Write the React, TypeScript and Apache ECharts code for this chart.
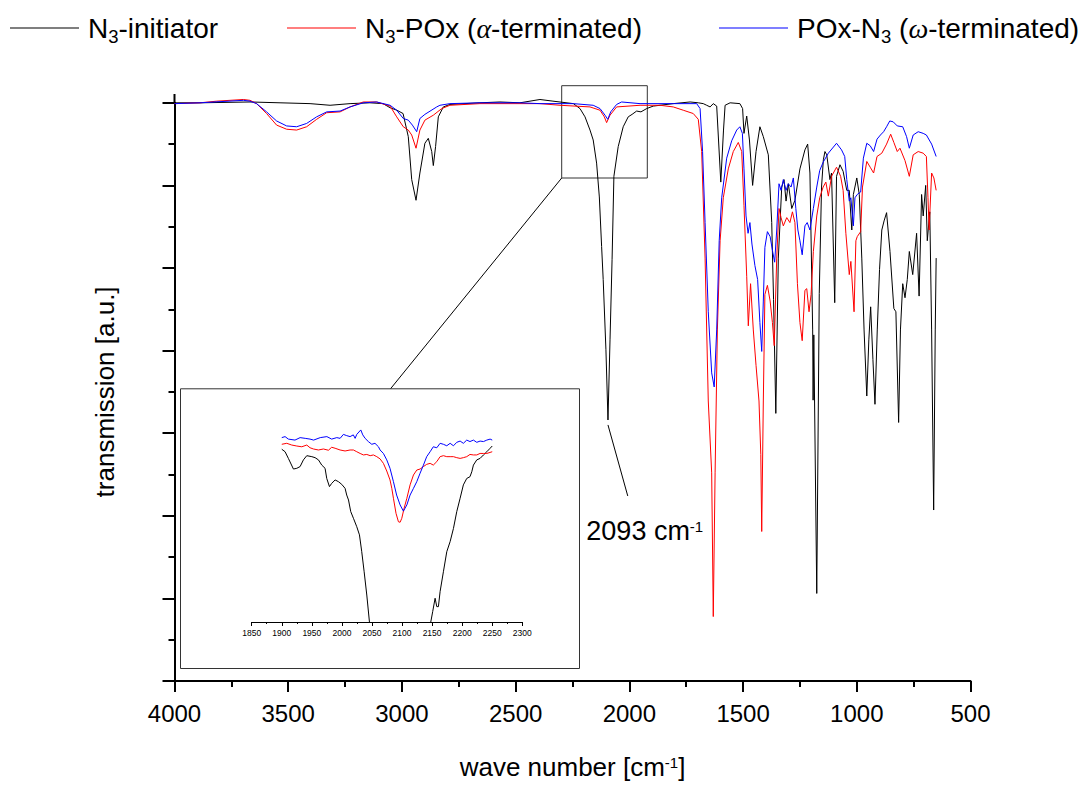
import React, { useEffect, useRef } from "react";
import * as echarts from "echarts";

const FONT = "Liberation Sans";

const seriesNames = ["N3-initiator", "N3-POx (α-terminated)", "POx-N3 (ω-terminated)"];
const seriesColors = ["#000000", "#ff0000", "#0000ff"];
const legendLabels = [
  "N{sub|3}-initiator",
  "N{sub|3}-POx ({it|α}-terminated)",
  "POx-N{sub|3} ({it|ω}-terminated)",
];

// main spectra: [wave number cm-1, transmission a.u.]
const initiatorSpectrum: [number, number][] = [
  [4000, 70.0], [3888, 70.0], [3668, 70.1], [3536, 70.0], [3404, 69.9], [3316, 69.7], [3228, 69.9], [3141, 70.0],
  [3083, 69.9], [3052, 69.4], [3022, 69.1], [2995, 68.7], [2972, 65.9], [2957, 60.7], [2938, 58.2], [2921, 61.5],
  [2899, 65.1], [2884, 65.7], [2869, 64.1], [2862, 62.4], [2852, 64.7], [2840, 68.3], [2818, 69.5], [2789, 69.8],
  [2657, 70.0], [2569, 70.1], [2481, 70.0], [2393, 70.4], [2336, 70.2], [2246, 69.9], [2217, 69.3], [2195, 68.3],
  [2173, 66.7], [2159, 65.5], [2144, 62.7], [2132, 58.6], [2122, 52.6], [2115, 48.6], [2103, 40.1], [2094, 31.6],
  [2085, 41.3], [2076, 51.0], [2068, 61.1], [2049, 64.7], [2027, 67.1], [2005, 68.3], [1988, 68.6], [1968, 69.0],
  [1949, 68.9], [1924, 69.3], [1895, 69.6], [1807, 69.9], [1733, 70.1], [1697, 70.0], [1675, 69.9], [1660, 69.7],
  [1645, 69.5], [1631, 69.9], [1616, 69.6], [1598, 60.4], [1586, 66.7], [1579, 69.7], [1557, 70.0], [1514, 69.9],
  [1502, 69.3], [1496, 66.3], [1484, 68.4], [1472, 65.5], [1458, 60.0], [1443, 64.1], [1426, 67.1], [1411, 65.9],
  [1389, 63.7], [1374, 55.5], [1366, 46.2], [1356, 32.4], [1345, 51.2], [1330, 59.8], [1320, 60.7], [1311, 58.1],
  [1301, 60.2], [1286, 57.2], [1272, 58.2], [1250, 62.0], [1228, 64.3], [1216, 65.0], [1206, 61.5], [1194, 42.5],
  [1192, 34.0], [1189, 41.9], [1176, 10.6], [1165, 46.9], [1155, 59.8], [1147, 63.1], [1140, 64.1], [1132, 63.7],
  [1118, 60.7], [1111, 61.5], [1097, 45.8], [1089, 61.1], [1074, 62.5], [1060, 61.7], [1044, 59.4], [1033, 59.4],
  [1022, 54.6], [1015, 58.9], [1000, 60.9], [989, 58.9], [978, 51.2], [968, 42.5], [956, 34.5], [947, 41.3],
  [939, 45.3], [929, 38.9], [920, 33.5], [910, 42.5], [900, 49.8], [890, 54.6], [880, 55.7], [869, 56.7],
  [854, 52.0], [837, 45.1], [828, 44.7], [816, 31.3], [808, 42.5], [798, 48.1], [788, 46.4], [778, 48.6],
  [769, 52.0], [754, 49.2], [737, 54.2], [726, 46.6], [715, 58.9], [708, 56.3], [697, 60.0], [690, 53.3],
  [679, 56.8], [671, 42.5], [662, 20.7], [655, 42.5], [651, 51.2],
];

const alphaSpectrum: [number, number][] = [
  [4000, 69.9], [3888, 70.0], [3814, 70.2], [3697, 70.4], [3668, 70.3], [3639, 69.9], [3595, 68.7], [3551, 67.3],
  [3507, 66.8], [3463, 66.7], [3419, 67.1], [3375, 68.0], [3331, 68.8], [3272, 68.9], [3228, 69.5], [3170, 70.1],
  [3111, 70.1], [3052, 69.6], [3023, 68.3], [2994, 67.1], [2972, 66.7], [2957, 66.1], [2938, 64.5], [2921, 66.7],
  [2899, 67.9], [2862, 68.5], [2825, 69.3], [2789, 69.7], [2657, 69.9], [2481, 69.9], [2393, 69.9], [2305, 69.7],
  [2173, 69.5], [2129, 69.1], [2110, 68.3], [2100, 67.6], [2085, 68.5], [2056, 69.5], [1953, 69.7], [1865, 69.7],
  [1807, 69.5], [1763, 69.1], [1719, 68.7], [1697, 68.0], [1682, 64.1], [1667, 51.2], [1653, 33.9], [1638, 25.2],
  [1631, 7.8], [1623, 25.2], [1613, 42.5], [1601, 53.3], [1587, 58.5], [1565, 62.0], [1543, 64.1], [1521, 65.2],
  [1506, 64.1], [1496, 57.6], [1484, 49.0], [1477, 43.0], [1467, 48.1], [1455, 42.5], [1443, 38.2], [1430, 33.9],
  [1422, 27.4], [1418, 18.1], [1411, 33.9], [1404, 46.8], [1393, 47.9], [1381, 46.0], [1371, 43.4], [1363, 40.6],
  [1352, 51.2], [1342, 57.2], [1333, 56.1], [1323, 55.1], [1308, 56.1], [1294, 55.5], [1283, 56.8], [1272, 55.5],
  [1261, 48.1], [1250, 43.4], [1240, 41.2], [1228, 47.3], [1220, 47.5], [1210, 44.7], [1201, 46.8], [1191, 52.0],
  [1176, 56.3], [1163, 58.5], [1148, 59.8], [1136, 60.4], [1125, 58.7], [1111, 61.1], [1089, 62.2], [1071, 61.1],
  [1060, 59.4], [1048, 54.2], [1033, 49.2], [1026, 50.8], [1012, 44.7], [1004, 53.3], [998, 53.8], [983, 54.4],
  [975, 59.8], [956, 62.9], [941, 62.2], [926, 61.5], [911, 63.5], [890, 63.9], [869, 65.0], [851, 66.2],
  [837, 65.2], [822, 64.1], [810, 64.5], [788, 63.0], [769, 61.1], [752, 63.7], [730, 64.1], [708, 63.9],
  [694, 63.5], [687, 58.5], [682, 54.6], [671, 61.5], [661, 60.9], [651, 59.4],
];

const omegaSpectrum: [number, number][] = [
  [4000, 69.9], [3888, 70.0], [3697, 70.3], [3668, 70.2], [3639, 69.9], [3595, 68.9], [3551, 67.8], [3507, 67.2],
  [3463, 67.1], [3419, 67.5], [3375, 68.3], [3331, 68.9], [3272, 69.0], [3228, 69.5], [3170, 70.0], [3111, 70.1],
  [3052, 69.7], [3023, 69.1], [2994, 68.1], [2972, 67.9], [2954, 67.3], [2935, 66.5], [2921, 68.1], [2899, 68.6],
  [2847, 69.5], [2833, 69.7], [2789, 69.9], [2657, 70.0], [2481, 70.0], [2393, 69.9], [2246, 69.9], [2159, 69.7],
  [2129, 69.3], [2107, 68.5], [2095, 68.0], [2082, 68.9], [2056, 69.8], [2034, 70.1], [1953, 69.9], [1807, 69.9],
  [1704, 69.9], [1689, 69.3], [1678, 64.1], [1667, 55.5], [1653, 44.7], [1638, 37.3], [1627, 35.6], [1616, 42.5],
  [1605, 53.3], [1594, 58.5], [1572, 63.3], [1550, 65.4], [1528, 66.7], [1514, 67.1], [1503, 66.3], [1496, 62.0],
  [1487, 56.3], [1478, 54.2], [1470, 55.5], [1461, 52.9], [1448, 50.3], [1436, 48.6], [1426, 43.4], [1418, 39.9],
  [1411, 46.0], [1404, 52.5], [1393, 54.4], [1381, 53.8], [1370, 52.0], [1361, 50.7], [1352, 54.6], [1342, 60.2],
  [1333, 59.4], [1323, 60.7], [1311, 59.4], [1301, 60.2], [1289, 59.8], [1279, 60.9], [1268, 57.2], [1259, 54.6],
  [1250, 53.3], [1240, 51.6], [1228, 55.1], [1218, 55.5], [1206, 54.6], [1191, 57.2], [1176, 59.8], [1163, 61.8],
  [1148, 62.8], [1125, 63.9], [1089, 65.1], [1067, 64.3], [1053, 63.5], [1044, 60.7], [1033, 58.1], [1026, 58.5],
  [1015, 55.1], [1008, 58.5], [998, 58.9], [983, 59.2], [971, 63.3], [956, 65.1], [941, 64.8], [926, 64.1],
  [911, 65.6], [896, 66.1], [882, 66.5], [869, 67.1], [855, 67.8], [840, 67.7], [822, 67.2], [798, 67.1],
  [781, 65.9], [769, 64.5], [752, 66.1], [730, 66.5], [708, 66.3], [694, 66.1], [671, 65.0], [651, 63.5],
];

// inset (azide band): [wave number, relative transmission]
const insetInitiator: [number, number][] = [
  [1900, 69.8], [1905.5, 68.8], [1911, 66.1], [1919.4, 61.8], [1925, 62.1], [1930.5, 62.8], [1936, 65.5],
  [1941.6, 67.2], [1950, 66.8], [1955.4, 66.4], [1961, 65.5], [1966.5, 63.4], [1972, 62.1], [1974.8, 58.0],
  [1979.3, 54.7], [1983, 56.0], [1988.7, 57.4], [1994.2, 56.7], [1999.8, 55.6], [2005.3, 54.0], [2008, 51.3],
  [2011, 49.3], [2014.7, 44.6], [2019.2, 41.9], [2024.7, 38.5], [2029.2, 35.2], [2033, 28.4], [2037, 20.3],
  [2041.4, 10.9], [2045.8, 0], [2060, -40], [2093, -120], [2130, -40], [2147.8, 0], [2151, 4.2], [2155, 9.6],
  [2157.8, 6.2], [2160.5, 6.2], [2163.3, 12.3], [2168.8, 20.3], [2174.4, 28.4], [2180, 32.5], [2185.5, 37.8],
  [2191, 44.6], [2196.6, 50.0], [2202, 55.4], [2207.6, 58.0], [2213, 58.7], [2216, 60.7], [2218.7, 63.4],
  [2224.3, 65.5], [2229.8, 66.1], [2235.4, 67.5], [2241, 68.8], [2246.5, 70.2], [2250, 71.1],
];

const insetAlpha: [number, number][] = [
  [1900, 71.8], [1908.3, 72.2], [1916.6, 71.5], [1925, 71.1], [1933.3, 70.8], [1941.6, 71.5], [1947, 70.4],
  [1952.7, 69.9], [1961, 69.5], [1969.3, 69.9], [1977.6, 69.4], [1983, 70.6], [1988.7, 70.2], [1997, 69.5],
  [2005.3, 69.1], [2013.6, 69.5], [2019.2, 69.5], [2024.7, 68.8], [2030.3, 68.1], [2035.8, 67.5], [2041.4, 67.7],
  [2047, 67.2], [2052.4, 67.5], [2058, 66.8], [2063.5, 65.9], [2069, 64.1], [2074.6, 61.0], [2080, 57.4],
  [2083, 54.0], [2085.7, 50.0], [2090, 43.9], [2094, 40.5], [2096.8, 40.3], [2099.6, 41.9], [2103.4, 45.9],
  [2108, 50.0], [2113.4, 55.4], [2119, 59.4], [2124.5, 61.4], [2130, 61.8], [2135.6, 62.8], [2141, 63.7],
  [2146.7, 64.1], [2152, 63.4], [2157.8, 64.8], [2163.3, 66.8], [2168.8, 67.2], [2174.4, 66.8], [2180, 66.8],
  [2185.5, 66.8], [2191, 66.4], [2196.6, 66.1], [2202, 66.4], [2207.6, 66.8], [2213, 67.7], [2218.7, 67.5],
  [2224.3, 67.5], [2229.8, 68.1], [2235.4, 68.1], [2241, 68.1], [2250, 68.8],
];

const insetOmega: [number, number][] = [
  [1900, 74.5], [1905.5, 74.9], [1911, 73.9], [1922, 73.5], [1930.5, 74.5], [1939, 74.2], [1947, 73.9],
  [1953, 73.5], [1964, 74.5], [1975, 74.9], [1983, 73.9], [1991.5, 74.5], [1997, 74.2], [2002.5, 75.8],
  [2008, 75.3], [2013.6, 74.9], [2019, 75.6], [2022, 74.2], [2024.7, 75.8], [2031.4, 77.6], [2034.7, 75.6],
  [2038.6, 74.2], [2044, 72.9], [2049.7, 71.8], [2055, 72.2], [2060.8, 70.8], [2063.5, 69.5], [2069, 68.1],
  [2074.6, 65.5], [2080, 62.1], [2085.7, 56.7], [2091, 51.3], [2096.8, 47.3], [2102.3, 44.8], [2108, 47.3],
  [2113.4, 51.3], [2119, 54.0], [2124.5, 56.7], [2130, 60.1], [2135.6, 63.4], [2141, 66.8], [2146.7, 68.8],
  [2152, 70.8], [2157.8, 70.4], [2163.3, 72.2], [2168.8, 71.8], [2174.4, 71.2], [2180, 72.2], [2185.5, 71.2],
  [2191, 72.6], [2196.6, 73.1], [2202, 72.2], [2207.6, 73.5], [2213, 72.9], [2218.7, 73.5], [2224.3, 72.6],
  [2229.8, 73.1], [2235.4, 72.9], [2241, 73.5], [2246.5, 73.9], [2250, 73.5],
];

// annotation of the azide band
const peakLabel = "2093 cm{sup|-1}";
const peakLeaderStart: [number, number] = [2094, 31.0];
const peakLeaderEnd: [number, number] = [2007, 22.4];

const mainXRange = { min: 500, max: 4000, step: 500 };
const mainYRange = { min: 0, max: 70, step: 10 };
const insetXRange = { min: 1850, max: 2300, step: 50 };
const insetYRange = { min: 0, max: 100 };

const plainNumber = (v: number) => String(v);

export default function App() {
  const ref = useRef<HTMLDivElement>(null);

  useEffect(() => {
    if (!ref.current) return;
    const chart = echarts.init(ref.current, null, { renderer: "svg" });

    const legendRich = {
      sub: { fontSize: 18.5, fontFamily: FONT, color: "#000", padding: [16, 0, 0, 0] },
      it: { fontSize: 28, fontFamily: "Liberation Serif", fontStyle: "italic", color: "#000" },
    };
    const legendLeft = [10, 287, 719];

    const axisLineStyle = { color: "#000", width: 2 };

    const option: any = {
      animation: false,
      backgroundColor: "#fff",
      legend: seriesNames.map((name, i) => ({
        data: [name],
        left: legendLeft[i],
        top: 14,
        padding: 0,
        icon: "rect",
        itemWidth: 69,
        itemHeight: 1.2,
        selectedMode: false,
        formatter: () => legendLabels[i],
        textStyle: {
          fontSize: 28,
          fontFamily: FONT,
          color: "#000",
          padding: [0, 0, 0, 4],
          rich: legendRich,
        },
      })),
      grid: [
        { left: 174.5, right: 113.5, top: 102.8, bottom: 103.3, containLabel: false },
        { left: 251.7, width: 270.6, top: 374.5, height: 247.5, containLabel: false },
      ],
      xAxis: [
        {
          gridIndex: 0,
          type: "value",
          inverse: true,
          min: mainXRange.min,
          max: mainXRange.max,
          interval: mainXRange.step,
          name: "wave number [cm{sup|-1}]",
          nameLocation: "middle",
          nameGap: 73,
          nameTextStyle: {
            fontSize: 26,
            fontFamily: FONT,
            color: "#000",
            rich: { sup: { fontSize: 15, fontFamily: FONT, color: "#000", padding: [0, 0, 9, 0] } },
          },
          axisLine: { show: true, onZero: false, lineStyle: axisLineStyle },
          axisTick: { show: true, length: 11, lineStyle: axisLineStyle },
          minorTick: { show: true, splitNumber: 2, length: 6, lineStyle: axisLineStyle },
          axisLabel: { fontSize: 24, fontFamily: FONT, color: "#000", margin: 20, formatter: plainNumber },
          splitLine: { show: false },
          minorSplitLine: { show: false },
        },
        {
          gridIndex: 1,
          type: "value",
          min: insetXRange.min,
          max: insetXRange.max,
          interval: insetXRange.step,
          axisLine: { show: true, onZero: false, lineStyle: { color: "#000", width: 1 } },
          axisTick: { show: true, length: 4, lineStyle: { color: "#000", width: 1 } },
          minorTick: { show: true, splitNumber: 2, length: 2, lineStyle: { color: "#000", width: 1 } },
          axisLabel: {
            fontSize: 8.5,
            fontFamily: FONT,
            color: "#000",
            margin: 6,
            interval: 0,
            hideOverlap: false,
            formatter: plainNumber,
          },
          splitLine: { show: false },
        },
      ],
      yAxis: [
        {
          gridIndex: 0,
          type: "value",
          min: mainYRange.min,
          max: mainYRange.max,
          interval: mainYRange.step,
          name: "transmission [a.u.]",
          nameLocation: "middle",
          nameRotate: 90,
          nameGap: 57,
          nameTextStyle: { fontSize: 26, fontFamily: FONT, color: "#000" },
          axisLine: { show: true, onZero: false, lineStyle: axisLineStyle },
          axisTick: { show: true, length: 12, lineStyle: axisLineStyle },
          minorTick: { show: true, splitNumber: 2, length: 6, lineStyle: axisLineStyle },
          axisLabel: { show: false },
          splitLine: { show: false },
        },
        {
          gridIndex: 1,
          type: "value",
          min: insetYRange.min,
          max: insetYRange.max,
          show: false,
          splitLine: { show: false },
        },
      ],
      graphic: [
        { type: "line", shape: { x1: 174.5, y1: 94, x2: 174.5, y2: 104 }, style: { stroke: "#000", lineWidth: 2 } },
        { type: "rect", shape: { x: 561.7, y: 85.7, width: 85.6, height: 92.3 }, style: { fill: "none", stroke: "#333", lineWidth: 1 } },
        { type: "line", shape: { x1: 561.7, y1: 178, x2: 390.5, y2: 388.8 }, style: { stroke: "#000", lineWidth: 1 } },
        { type: "rect", shape: { x: 180.5, y: 388.8, width: 399, height: 279.7 }, style: { fill: "none", stroke: "#333", lineWidth: 1 } },
      ],
      series: [
        {
          name: seriesNames[0],
          type: "line",
          xAxisIndex: 0,
          yAxisIndex: 0,
          data: initiatorSpectrum,
          showSymbol: false,
          symbol: "none",
          clip: false,
          lineStyle: { color: seriesColors[0], width: 1 },
          itemStyle: { color: seriesColors[0] },
          markLine: {
            silent: true,
            symbol: ["none", "none"],
            label: { show: false },
            lineStyle: { color: "#000", width: 1, type: "solid" },
            data: [[{ coord: peakLeaderStart }, { coord: peakLeaderEnd }]],
          },
          markPoint: {
            silent: true,
            symbol: "circle",
            symbolSize: 0,
            data: [{ coord: peakLeaderEnd }],
            label: {
              show: true,
              position: "inside",
              offset: [17, 35],
              formatter: peakLabel,
              fontSize: 27,
              fontFamily: FONT,
              color: "#000",
              rich: { sup: { fontSize: 15, fontFamily: FONT, color: "#000", padding: [0, 0, 9, 0] } },
            },
          },
        },
        {
          name: seriesNames[1],
          type: "line",
          xAxisIndex: 0,
          yAxisIndex: 0,
          data: alphaSpectrum,
          showSymbol: false,
          symbol: "none",
          clip: false,
          lineStyle: { color: seriesColors[1], width: 1 },
          itemStyle: { color: seriesColors[1] },
        },
        {
          name: seriesNames[2],
          type: "line",
          xAxisIndex: 0,
          yAxisIndex: 0,
          data: omegaSpectrum,
          showSymbol: false,
          symbol: "none",
          clip: false,
          lineStyle: { color: seriesColors[2], width: 1 },
          itemStyle: { color: seriesColors[2] },
        },
        {
          name: "inset-initiator",
          type: "line",
          xAxisIndex: 1,
          yAxisIndex: 1,
          data: insetInitiator,
          showSymbol: false,
          symbol: "none",
          clip: true,
          lineStyle: { color: seriesColors[0], width: 1 },
        },
        {
          name: "inset-alpha",
          type: "line",
          xAxisIndex: 1,
          yAxisIndex: 1,
          data: insetAlpha,
          showSymbol: false,
          symbol: "none",
          clip: true,
          lineStyle: { color: seriesColors[1], width: 1 },
        },
        {
          name: "inset-omega",
          type: "line",
          xAxisIndex: 1,
          yAxisIndex: 1,
          data: insetOmega,
          showSymbol: false,
          symbol: "none",
          clip: true,
          lineStyle: { color: seriesColors[2], width: 1 },
        },
      ],
    };

    chart.setOption(option);
    return () => chart.dispose();
  }, []);

  return (
    <div
      ref={ref}
      style={{ position: "absolute", left: 0, top: 0, width: 1084, height: 785, background: "#fff" }}
    />
  );
}
